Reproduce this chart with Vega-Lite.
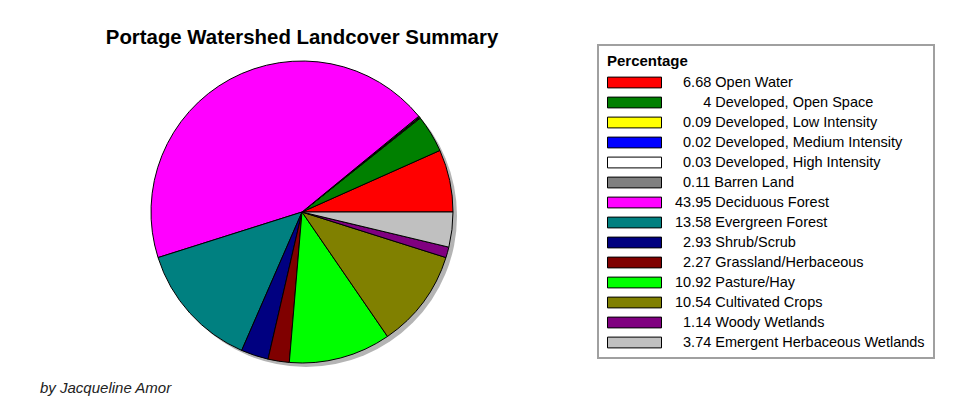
{
  "$schema": "https://vega.github.io/schema/vega-lite/v6.json",
  "background": "white",
  "padding": {"left": 13, "top": 27, "right": 5, "bottom": 5},
  "bounds": "flush",
  "title": {
    "text": "by Jacqueline Amor",
    "orient": "bottom",
    "anchor": "start",
    "dx": 27,
    "offset": 14,
    "baseline": "alphabetic",
    "font": "Liberation Sans",
    "fontSize": 15,
    "fontStyle": "italic",
    "fontWeight": "normal",
    "color": "#222222"
  },
  "data": {
    "values": [
      {"Landcover": "Open Water", "Percentage": 6.68, "Label": "6.68 Open Water"},
      {"Landcover": "Developed, Open Space", "Percentage": 4, "Label": "4 Developed, Open Space"},
      {"Landcover": "Developed, Low  Intensity", "Percentage": 0.09, "Label": "0.09 Developed, Low  Intensity"},
      {"Landcover": "Developed, Medium Intensity", "Percentage": 0.02, "Label": "0.02 Developed, Medium Intensity"},
      {"Landcover": "Developed, High Intensity", "Percentage": 0.03, "Label": "0.03 Developed, High Intensity"},
      {"Landcover": "Barren Land", "Percentage": 0.11, "Label": "0.11 Barren Land"},
      {"Landcover": "Deciduous Forest", "Percentage": 43.95, "Label": "43.95 Deciduous Forest"},
      {"Landcover": "Evergreen Forest", "Percentage": 13.58, "Label": "13.58 Evergreen Forest"},
      {"Landcover": "Shrub/Scrub", "Percentage": 2.93, "Label": "2.93 Shrub/Scrub"},
      {"Landcover": "Grassland/Herbaceous", "Percentage": 2.27, "Label": "2.27 Grassland/Herbaceous"},
      {"Landcover": "Pasture/Hay", "Percentage": 10.92, "Label": "10.92 Pasture/Hay"},
      {"Landcover": "Cultivated Crops", "Percentage": 10.54, "Label": "10.54 Cultivated Crops"},
      {"Landcover": "Woody Wetlands", "Percentage": 1.14, "Label": "1.14 Woody Wetlands"},
      {"Landcover": "Emergent Herbaceous Wetlands", "Percentage": 3.74, "Label": "3.74 Emergent Herbaceous Wetlands"}
    ]
  },
  "transform": [{"window": [{"op": "row_number", "as": "Rank"}]}],
  "vconcat": [
    {
      "width": 578,
      "height": 334,
      "title": {
        "text": "Portage Watershed Landcover Summary",
        "anchor": "middle",
        "offset": -19,
        "baseline": "alphabetic",
        "font": "Liberation Sans",
        "fontSize": 20.4,
        "fontWeight": "bold",
        "color": "black"
      },
      "layer": [
        {
          "mark": {"type": "arc", "radius": 151, "fill": "#b4b4b4", "xOffset": 4, "yOffset": 4},
          "encoding": {
            "theta": {
              "aggregate": "sum",
              "field": "Percentage",
              "type": "quantitative",
              "stack": true,
              "scale": {"range": [1.5708, -4.7124]}
            }
          }
        },
        {
          "mark": {"type": "arc", "radius": 151, "stroke": "black", "strokeWidth": 1},
          "encoding": {
            "theta": {"field": "Percentage", "type": "quantitative", "stack": true},
            "order": {"field": "Rank", "type": "quantitative"},
            "color": {
              "field": "Label",
              "type": "nominal",
              "sort": null,
              "scale": {
                "range": ["#ff0000", "#008000", "#ffff00", "#0000ff", "#ffffff", "#808080", "#ff00ff", "#008080", "#000080", "#800000", "#00ff00", "#808000", "#800080", "#c0c0c0"]
              },
              "legend": {
                "orient": "right",
                "offset": 7,
                "title": "Percentage",
                "titleFont": "Liberation Sans",
                "titleFontSize": 15,
                "titleFontWeight": "bold",
                "titleColor": "black",
                "titlePadding": 7,
                "labelFont": "Liberation Sans",
                "labelFontSize": 14.5,
                "labelColor": "black",
                "labelOffset": 13,
                "labelLimit": 400,
                "labelExpr": "(indexof(datum.label, '.') == 1 ? '\u200b\u00a0\u00a0' : indexof(datum.label, '.') == 2 ? '' : '\u200b\u00a0\u00a0\u00a0\u00a0\u00a0\u00a0\u00a0') + datum.label",
                "symbolType": "M-1,-0.2H1V0.2H-1Z",
                "symbolSize": 2916,
                "symbolStrokeColor": "black",
                "symbolStrokeWidth": 1,
                "clipHeight": 13,
                "rowPadding": 5,
                "padding": 9,
                "strokeColor": "#a0a0a0",
                "encode": {
                  "legend": {"update": {"strokeWidth": {"value": 2}}},
                  "symbols": {"update": {"stroke": {"value": "black"}, "strokeWidth": {"value": 1}}}
                }
              }
            }
          }
        }
      ]
    }
  ],
  "config": {"view": {"stroke": null}}
}
